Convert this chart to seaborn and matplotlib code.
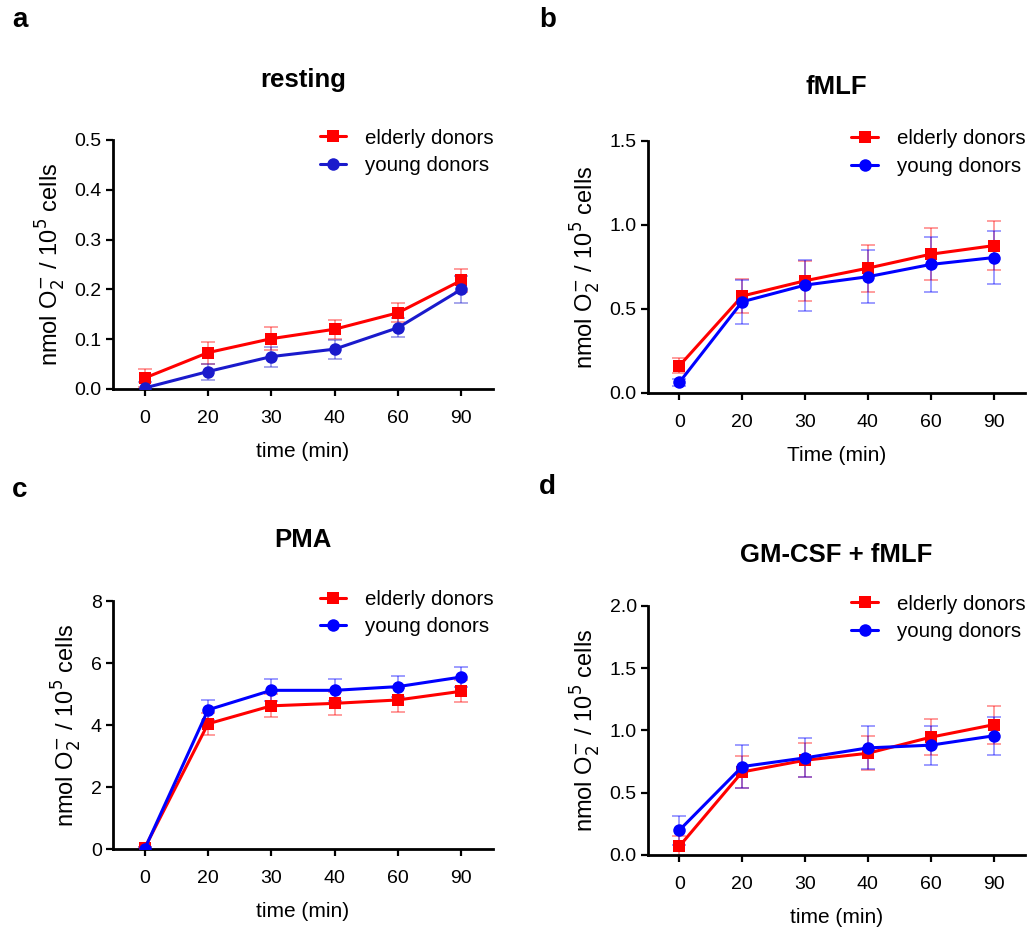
import numpy as np
import pandas as pd
import seaborn as sns
import matplotlib.pyplot as plt

sns.set_style('ticks')
plt.rcParams['font.family'] = ['Liberation Sans', 'DejaVu Sans']
plt.rcParams['text.color'] = 'black'
plt.rcParams['axes.labelcolor'] = 'black'
plt.rcParams['xtick.color'] = 'black'
plt.rcParams['ytick.color'] = 'black'
plt.rcParams['axes.edgecolor'] = 'black'

times = ['0', '20', '30', '40', '60', '90']

# resting
rest_old = [0.022, 0.073, 0.101, 0.120, 0.153, 0.218]
rest_old_err = [0.019, 0.022, 0.023, 0.019, 0.019, 0.023]
rest_young = [0.002, 0.035, 0.065, 0.080, 0.123, 0.200]
rest_young_err = [0.012, 0.016, 0.020, 0.019, 0.019, 0.027]

# fMLF
fmlf_old = [0.162, 0.577, 0.668, 0.743, 0.826, 0.877]
fmlf_old_err = [0.044, 0.100, 0.120, 0.140, 0.155, 0.145]
fmlf_young = [0.063, 0.543, 0.642, 0.692, 0.765, 0.806]
fmlf_young_err = [0.020, 0.130, 0.152, 0.157, 0.162, 0.160]

# PMA
pma_old = [0.03, 4.04, 4.62, 4.70, 4.81, 5.09]
pma_old_err = [0.05, 0.35, 0.37, 0.37, 0.38, 0.36]
pma_young = [0.0, 4.49, 5.12, 5.12, 5.24, 5.55]
pma_young_err = [0.05, 0.33, 0.36, 0.36, 0.33, 0.32]

# GM-CSF + fMLF
gm_old = [0.07, 0.667, 0.761, 0.817, 0.946, 1.046]
gm_old_err = [0.08, 0.13, 0.135, 0.137, 0.145, 0.153]
gm_young = [0.199, 0.710, 0.780, 0.860, 0.882, 0.957]
gm_young_err = [0.116, 0.170, 0.156, 0.172, 0.156, 0.150]

# letter, title, xlabel, data..., ymax, ystep, fmt, blue, axes rect, title pad, letter y (px)
panels = [
    ('a', 'resting', 'time (min)', rest_old, rest_old_err, rest_young, rest_young_err,
     0.5, 0.1, '%.1f', '#1a1acc', [0.1098, 0.5804, 0.3693, 0.2686], 38, 20),
    ('b', 'fMLF', 'Time (min)', fmlf_old, fmlf_old_err, fmlf_young, fmlf_young_err,
     1.5, 0.5, '%.1f', '#0000ff', [0.6297, 0.5761, 0.3664, 0.2718], 34, 20),
    ('c', 'PMA', 'time (min)', pma_old, pma_old_err, pma_young, pma_young_err,
     8, 2, '%d', '#0000ff', [0.1098, 0.0841, 0.3693, 0.2675], 39, 490),
    ('d', 'GM-CSF + fMLF', 'time (min)', gm_old, gm_old_err, gm_young, gm_young_err,
     2.0, 0.5, '%.1f', '#0000ff', [0.6297, 0.0777, 0.3664, 0.2686], 32, 487),
]

W, H = 1029, 927
fig = plt.figure(figsize=(W / 100, H / 100), dpi=100)
red = '#ff0000'

for letter, title, xlab, old, old_err, young, young_err, ymax, ystep, fmt, blue, pos, tpad, ly in panels:
    ax = fig.add_axes(pos)
    x = np.arange(len(times))
    df = pd.DataFrame({
        'x': np.concatenate([x, x]),
        'y': old + young,
        'group': ['elderly donors'] * 6 + ['young donors'] * 6,
    })
    # error bars first, faded
    ax.errorbar(x, old, yerr=old_err, fmt='none', ecolor=red, alpha=0.45,
                elinewidth=1.2, capsize=5, capthick=1.2, zorder=1)
    ax.errorbar(x, young, yerr=young_err, fmt='none', ecolor=blue, alpha=0.45,
                elinewidth=1.2, capsize=5, capthick=1.2, zorder=1)
    sns.lineplot(data=df, x='x', y='y', hue='group', style='group',
                 palette={'elderly donors': red, 'young donors': blue},
                 markers={'elderly donors': 's', 'young donors': 'o'},
                 dashes=False, markersize=9, markeredgewidth=0, linewidth=2.2,
                 ax=ax, zorder=3)
    ax.set_xlim(-0.5, 5.5)
    ax.set_ylim(0, ymax)
    ax.set_xticks(x)
    ax.set_xticklabels(times)
    ax.set_yticks(np.arange(0, ymax + ystep / 2, ystep))
    ax.set_yticklabels([fmt % v for v in np.arange(0, ymax + ystep / 2, ystep)])
    ax.tick_params(labelsize=14, width=1.6, length=5)
    ax.tick_params(axis='x', pad=10)
    ax.tick_params(axis='y', pad=3)
    for s in ['left', 'bottom']:
        ax.spines[s].set_linewidth(2)
    sns.despine(ax=ax)
    ax.set_xlabel(xlab, fontsize=15, labelpad=11)
    ax.set_ylabel('nmol O$_2^{-}$ / 10$^5$ cells', fontsize=17, labelpad=5)
    ax.set_title(title, fontsize=18.5, fontweight='bold', pad=tpad)
    ax.legend(loc='upper right', frameon=False, fontsize=14.8,
              bbox_to_anchor=(1.05, 1.12), handlelength=1.3, labelspacing=0.42,
              handletextpad=0.9)
    fig.text((12 if letter in 'ac' else 539) / W, 1 - ly / H, letter, fontsize=20,
             fontweight='bold', va='center', ha='left')

fig.savefig('out.png', dpi=100)
